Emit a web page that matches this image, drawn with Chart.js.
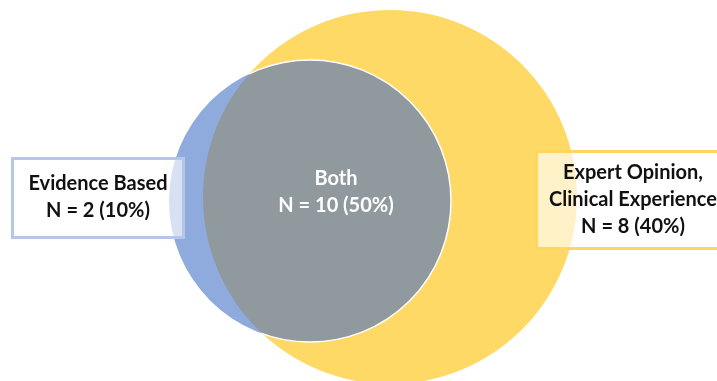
<!DOCTYPE html>
<html>
<head>
<meta charset="utf-8">
<script src="https://cdn.jsdelivr.net/npm/chart.js@4"></script>
<style>
  html, body { margin: 0; padding: 0; background: #fff; }
  #venn { display: block; }
</style>
</head>
<body>
<canvas id="venn" width="717" height="381"></canvas>
<script>
// groups of the venn: left only, overlap, right only
const categories = [['Evidence Based'], ['Both'], ['Expert Opinion,', 'Clinical Experience']];
const counts = [2, 10, 8];
const percents = [10, 50, 40];

// circle placement (canvas pixels) - layout only
const yellowCircle = { x: 390, y: 197, r: 187 };
const blueCircle = { x: 310, y: 201, r: 141 };

const YELLOW = '#FFD966';
const BLUE = '#8FAADC';
const GREY = '#8F999E';

// label boxes: [left, top, width, height], text centre
const labelLayout = [
  { box: [12.5, 158.5, 171, 79], border: '#B4C7E7', cx: 98, cy: 197.5, color: '#111' },
  { box: null, cx: 336, cy: 192.5, color: '#fff' },
  { box: [536.5, 151.5, 200, 97], border: '#FFD75E', cx: 633, cy: 200, color: '#111' }
];
const lineHeight = 27;

const vennPlugin = {
  id: 'venn',
  afterDatasetsDraw(chart) {
    const ctx = chart.ctx;
    const yEl = chart.getDatasetMeta(0).data[0];
    const bEl = chart.getDatasetMeta(1).data[0];
    const ry = yEl.options.radius, rb = bEl.options.radius;

    // overlap = blue circle clipped to yellow circle
    ctx.save();
    ctx.beginPath();
    ctx.arc(bEl.x, bEl.y, rb, 0, Math.PI * 2);
    ctx.clip();
    ctx.beginPath();
    ctx.arc(yEl.x, yEl.y, ry, 0, Math.PI * 2);
    ctx.fillStyle = GREY;
    ctx.fill();
    ctx.restore();

    // thin white edge of the blue circle where it sits on yellow
    ctx.save();
    ctx.beginPath();
    ctx.arc(yEl.x, yEl.y, ry, 0, Math.PI * 2);
    ctx.clip();
    ctx.beginPath();
    ctx.arc(bEl.x, bEl.y, rb, 0, Math.PI * 2);
    ctx.strokeStyle = '#fff';
    ctx.lineWidth = 1.5;
    ctx.stroke();
    ctx.restore();

    // labels
    ctx.save();
    ctx.font = 'bold 20px Lato, "Open Sans", sans-serif';
    ctx.textAlign = 'center';
    ctx.textBaseline = 'middle';
    categories.forEach((lines, i) => {
      const L = labelLayout[i];
      if (L.box) {
        const [bx, by, bw, bh] = L.box;
        ctx.fillStyle = 'rgba(255,255,255,0.65)';
        ctx.fillRect(bx, by, bw, bh);
        ctx.strokeStyle = L.border;
        ctx.lineWidth = 3;
        ctx.strokeRect(bx, by, bw, bh);
      }
      const all = lines.concat(['N = ' + counts[i] + ' (' + percents[i] + '%)']);
      const top = L.cy - (all.length - 1) * lineHeight / 2;
      ctx.fillStyle = L.color;
      all.forEach((t, k) => ctx.fillText(t, L.cx, top + k * lineHeight));
    });
    ctx.restore();
  }
};

new Chart(document.getElementById('venn'), {
  type: 'bubble',
  data: {
    datasets: [
      {
        label: categories[2].join(' '),
        data: [yellowCircle],
        backgroundColor: YELLOW,
        borderWidth: 0,
        hoverRadius: 0,
        order: 2
      },
      {
        label: categories[0].join(' '),
        data: [blueCircle],
        backgroundColor: BLUE,
        borderWidth: 0,
        hoverRadius: 0,
        order: 1
      }
    ]
  },
  options: {
    responsive: false,
    animation: false,
    events: [],
    clip: false,
    layout: { padding: 0, autoPadding: false },
    plugins: {
      legend: { display: false },
      tooltip: { enabled: false }
    },
    scales: {
      x: { type: 'linear', min: 0, max: 717, display: false },
      y: { type: 'linear', min: 0, max: 381, reverse: true, display: false }
    }
  },
  plugins: [vennPlugin]
});
</script>
</body>
</html>
